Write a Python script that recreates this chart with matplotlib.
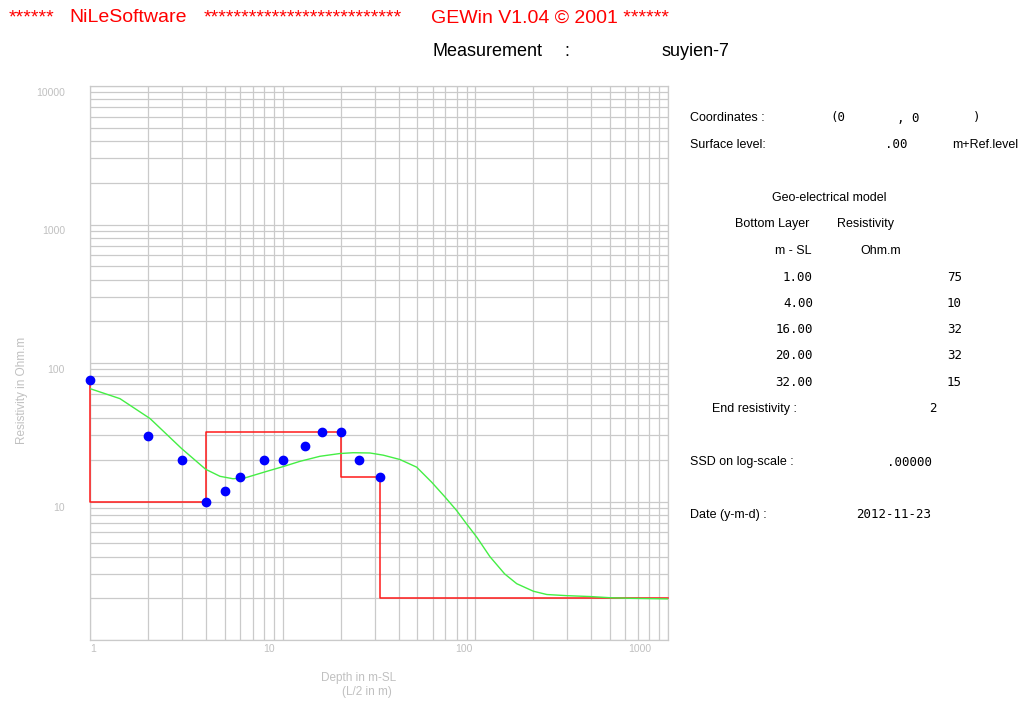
import matplotlib
matplotlib.use("Agg")
import matplotlib.pyplot as plt
from matplotlib.ticker import LogLocator, NullFormatter

# measured apparent resistivity (blue dots), L/2 in m vs Ohm.m
ab2 = [1, 2, 3, 4, 5, 6, 8, 10, 13, 16, 20, 25, 32]
rho_meas = [75, 29.5, 20, 10, 12, 15, 20, 20, 25, 32, 32, 20, 15]

# geo-electrical model (table on the right)
layer_bottom = [1.00, 4.00, 16.00, 20.00, 32.00]
layer_rho = [75, 10, 32, 32, 15]
end_rho = 2

# calculated curve (green)
curve_x = [1, 1.43, 2.05, 2.99, 3.98, 4.73, 5.52, 6.37, 8.26, 10.1, 12.3, 15.6,
           19.8, 23.2, 28.4, 33.3, 40.6, 49.6, 59.3, 69.5, 80, 90, 102, 119,
           142, 164, 200, 235, 298, 393, 499, 634, 1000]
curve_y = [65.3, 55.3, 39.7, 24.1, 17.1, 15.2, 14.6, 14.8, 16.5, 17.9, 19.5, 21.2,
           22.2, 22.5, 22.4, 21.6, 20.1, 17.7, 13.8, 10.8, 8.6, 6.9, 5.5, 4.0,
           3.0, 2.55, 2.25, 2.13, 2.09, 2.06, 2.02, 2.0, 1.98]

xticks = [1, 10, 100, 1000]
yticks = [10, 100, 1000, 10000]

W, H = 1023, 702
GRID = "#cacaca"
LABEL = "#c0c0c0"
SANS = "Liberation Sans"
MONO = "DejaVu Sans Mono"


def px(x, y):
    return x / W, 1 - y / H


fig = plt.figure(figsize=(W / 100, H / 100), dpi=100)
ax = fig.add_axes([90 / W, (H - 640) / H, (668 - 90) / W, (640 - 86) / H])
ax.set_xscale("log")
ax.set_yscale("log")
ax.set_xlim(1, 1000)
ax.set_ylim(1, 10000)

for axis in (ax.xaxis, ax.yaxis):
    axis.set_major_locator(LogLocator(base=10))
    axis.set_minor_locator(LogLocator(base=10, subs=range(2, 10), numticks=50))
    axis.set_major_formatter(NullFormatter())
    axis.set_minor_formatter(NullFormatter())
ax.tick_params(which="both", length=0)
ax.grid(which="both", color=GRID, lw=0.9)
ax.set_axisbelow(True)
for s in ax.spines.values():
    s.set_color(GRID)
    s.set_linewidth(0.9)

# model steps
xs, ys = [], []
edges = [1] + layer_bottom + [1000]
rhos = layer_rho + [end_rho]
for i, r in enumerate(rhos):
    xs += [edges[i], edges[i + 1]]
    ys += [r, r]
ax.plot(xs, ys, color="#ff1a1a", lw=1.1, clip_on=False, zorder=3)

ax.plot(curve_x, curve_y, color="#44ee44", lw=1.0, zorder=4)
ax.plot(ab2, rho_meas, "o", color="#0000ff", ms=6, mec="#0000ff", zorder=5,
        clip_on=False)

# tick labels, shifted the way the original program draws them
for v in yticks:
    ax.annotate(str(v), xy=(0, v), xycoords=("axes fraction", "data"),
                xytext=(-18, -5), textcoords="offset points", ha="right",
                va="center", fontsize=7.5, color=LABEL, family=SANS)
for v, dx in zip(xticks, [2, -10, -8, -20]):
    ax.annotate(str(v), xy=(v, 0), xycoords=("data", "axes fraction"),
                xytext=(dx, -3), textcoords="offset points", ha="center",
                va="top", fontsize=7.5, color=LABEL, family=SANS)

fig.text(*px(22, 390), "Resistivity in Ohm.m", rotation=90, ha="center",
         va="center", fontsize=8.5, color=LABEL, family=SANS)
fig.text(*px(359, 678), "Depth in m-SL", ha="center", va="center",
         fontsize=8.5, color=LABEL, family=SANS)
fig.text(*px(367, 692), "(L/2 in m)", ha="center", va="center",
         fontsize=8.5, color=LABEL, family=SANS)

# header
hdr = dict(fontsize=14, color="#ff0000", family=SANS, va="center", ha="left")
fig.text(*px(9, 18), "******", **hdr)
fig.text(*px(69, 18), "NiLeSoftware", **hdr)
fig.text(*px(204, 18), "*" * 26, **hdr)
fig.text(*px(431, 18), "GEWin V1.04 \u00a9 2001 ******", **hdr)
fig.text(*px(432, 52), "Measurement", fontsize=13, family=SANS, va="center")
fig.text(*px(564, 52), ":", fontsize=13, family=SANS, va="center")
fig.text(*px(662, 52), "suyien-7", fontsize=13, family=SANS, va="center")

# right panel
lab = dict(fontsize=9, family=SANS, va="center")
num = dict(fontsize=9, family=MONO, va="center")
fig.text(*px(690, 118), "Coordinates :", **lab)
fig.text(*px(830, 118), "(0", **num)
fig.text(*px(897, 118), ", 0", **num)
fig.text(*px(973, 118), ")", **num)
fig.text(*px(690, 145), "Surface level:", **lab)
fig.text(*px(907, 145), ".00", ha="right", **num)
fig.text(*px(952, 145), "m+Ref.level", **lab)
fig.text(*px(829, 198), "Geo-electrical model", ha="center", **lab)
fig.text(*px(735, 224), "Bottom Layer", **lab)
fig.text(*px(837, 224), "Resistivity", **lab)
fig.text(*px(775, 251), "m - SL", **lab)
fig.text(*px(860, 251), "Ohm.m", **lab)
for i, (d, r) in enumerate(zip(layer_bottom, layer_rho)):
    y = 277 + i * 26.3
    fig.text(*px(813, y), f"{d:.2f}", ha="right", **num)
    fig.text(*px(962, y), f"{r}", ha="right", **num)
fig.text(*px(712, 409), "End resistivity :", **lab)
fig.text(*px(937, 409), f"{end_rho}", ha="right", **num)
fig.text(*px(690, 462), "SSD on log-scale :", **lab)
fig.text(*px(932, 462), ".00000", ha="right", **num)
fig.text(*px(690, 515), "Date (y-m-d) :", **lab)
fig.text(*px(931, 515), "2012-11-23", ha="right", **num)

fig.savefig("out.png", dpi=100)
